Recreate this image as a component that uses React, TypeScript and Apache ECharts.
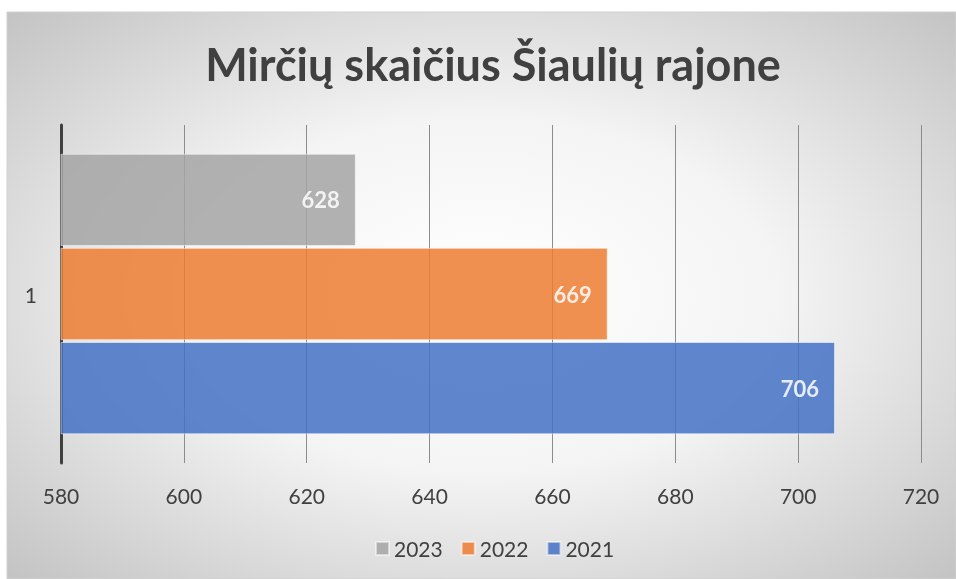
import React, { useEffect, useRef } from "react";
import * as echarts from "echarts";

const categories = ["1"];
const seriesNames = ["2023", "2022", "2021"];
const values2023 = [628];
const values2022 = [669];
const values2021 = [706];
const legendOrder = ["2023", "2022", "2021"];
const colors = ["#a5a5a5", "#ed7d31", "#4472c4"];

export default function App() {
  const ref = useRef<HTMLDivElement>(null);
  useEffect(() => {
    const chart = echarts.init(ref.current!, null, { renderer: "svg" });
    const data = [values2023, values2022, values2021];
    const font = "Lato, 'Open Sans', sans-serif";
    chart.setOption({
      animation: false,
      graphic: [
        {
          type: "rect",
          z: -10,
          silent: true,
          shape: { x: 7, y: 12, width: 949, height: 567 },
          style: {
            fill: new echarts.graphic.RadialGradient(0.5, 0.5, 0.7, [
              { offset: 0, color: "#ffffff" },
              { offset: 0.45, color: "#f4f4f4" },
              { offset: 1, color: "#c4c4c4" },
            ]),
            stroke: "#d0d0d0",
            lineWidth: 1,
          },
        },
      ],
      title: {
        text: "Mirčių skaičius Šiaulių rajone",
        left: 488,
        textAlign: "center",
        top: 36,
        textStyle: {
          fontFamily: font,
          fontWeight: "bold",
          fontSize: 45,
          color: "#404040",
        },
      },
      legend: {
        data: legendOrder,
        bottom: 15,
        left: 370,
        itemWidth: 13,
        itemHeight: 13,
        itemGap: 18,
        icon: "rect",
        textStyle: { fontFamily: font, fontSize: 21, color: "#404040" },
      },
      grid: { left: 61, right: 35, top: 125, bottom: 116, containLabel: false },
      xAxis: {
        type: "value",
        min: 580,
        max: 720,
        interval: 20,
        axisLine: { show: false },
        axisTick: { show: false },
        splitLine: { lineStyle: { color: "#8c8c8c", width: 1 } },
        axisLabel: {
          fontFamily: font,
          fontSize: 21,
          color: "#404040",
          margin: 22,
        },
      },
      yAxis: {
        type: "category",
        data: categories,
        axisLine: { lineStyle: { color: "#404040", width: 3 } },
        axisTick: { show: false },
        axisLabel: {
          fontFamily: font,
          fontSize: 21,
          color: "#404040",
          margin: 24,
        },
      },
      series: seriesNames.map((name, i) => ({
        name,
        type: "bar",
        data: data[i],
        barGap: "2%",
        barCategoryGap: "17%",
        itemStyle: {
          color: colors[i],
          opacity: 0.85,
          borderColor: "rgba(255,255,255,0.6)",
          borderWidth: 1,
        },
        label: {
          show: true,
          position: "insideRight",
          distance: 16,
          color: "#ffffff",
          fontWeight: "bold",
          fontFamily: font,
          fontSize: 22,
        },
      })),
    });
    return () => chart.dispose();
  }, []);
  return (
    <div
      ref={ref}
      style={{ position: "fixed", left: 0, top: 0, width: 956, height: 579 }}
    />
  );
}
